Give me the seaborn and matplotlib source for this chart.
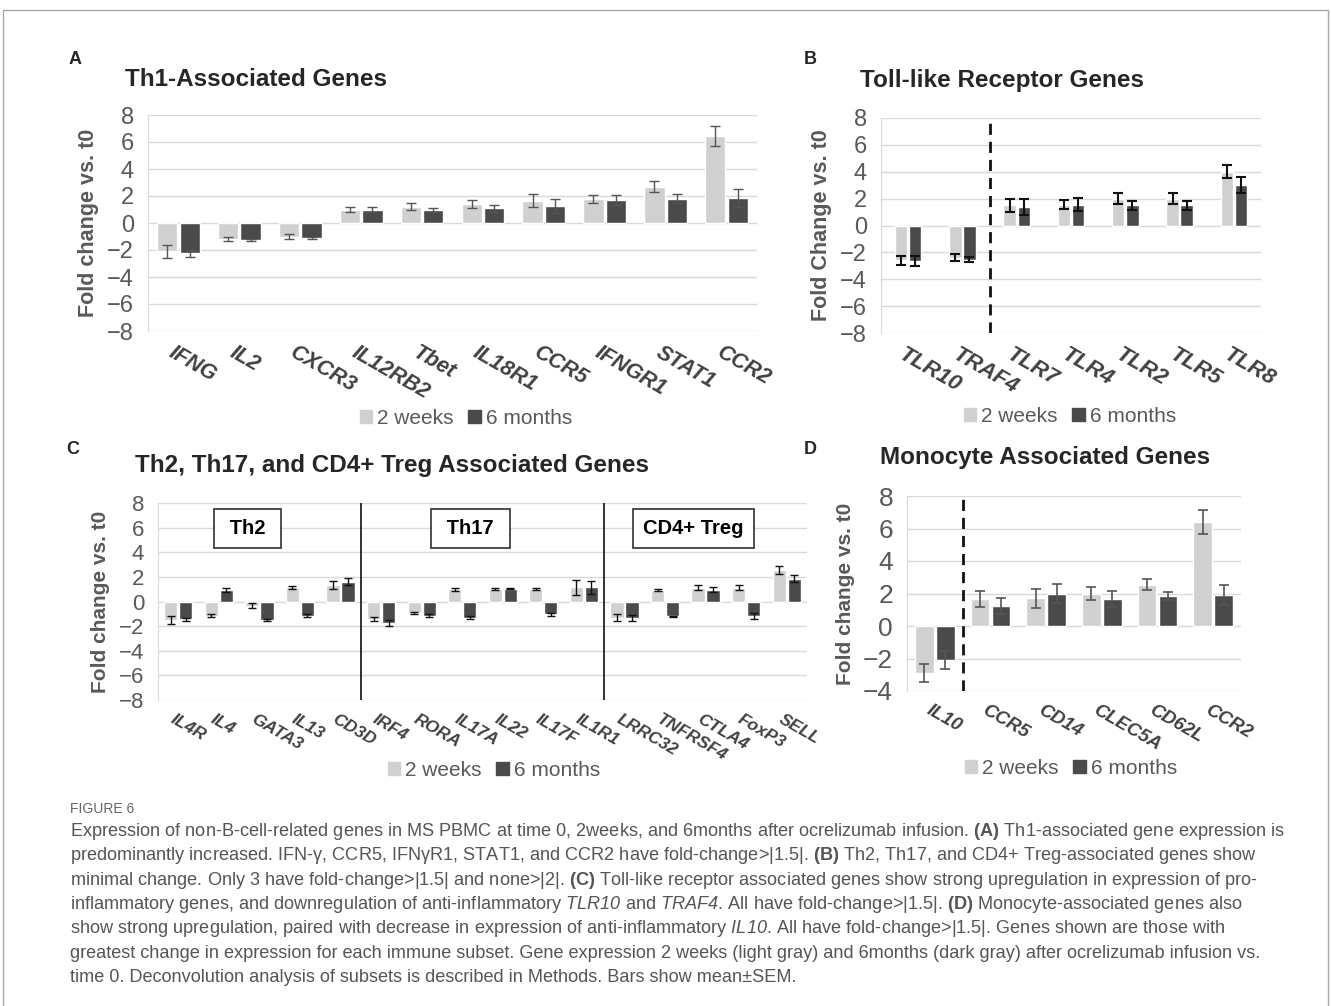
import matplotlib
matplotlib.use("Agg")
import matplotlib.pyplot as plt
import matplotlib.transforms as mtransforms
from matplotlib import font_manager
from matplotlib.patches import Patch
from matplotlib.lines import Line2D
import seaborn as sns
import pandas as pd

timepoints = ["2 weeks", "6 months"]

# A - Th1
th1_genes = ["IFNG", "IL2", "CXCR3", "IL12RB2", "Tbet", "IL18R1", "CCR5", "IFNGR1", "STAT1", "CCR2"]
th1_2wk = [-2.1, -1.15, -1.0, 1.0, 1.2, 1.4, 1.65, 1.8, 2.7, 6.45]
th1_2wk_sem = [0.5, 0.15, 0.2, 0.15, 0.25, 0.3, 0.5, 0.3, 0.38, 0.75]
th1_6mo = [-2.25, -1.25, -1.1, 1.0, 0.95, 1.1, 1.25, 1.7, 1.8, 1.85]
th1_6mo_sem = [0.25, 0.1, 0.1, 0.2, 0.15, 0.25, 0.5, 0.35, 0.35, 0.65]

# B - Toll-like receptors
tlr_genes = ["TLR10", "TRAF4", "TLR7", "TLR4", "TLR2", "TLR5", "TLR8"]
tlr_2wk = [-2.6, -2.4, 1.5, 1.55, 2.0, 2.0, 4.0]
tlr_2wk_sem = [0.35, 0.25, 0.5, 0.35, 0.4, 0.4, 0.5]
tlr_6mo = [-2.65, -2.55, 1.35, 1.55, 1.5, 1.5, 3.0]
tlr_6mo_sem = [0.37, 0.2, 0.6, 0.5, 0.35, 0.35, 0.6]

# C - Th2 / Th17 / Treg
cd4_genes = ["IL4R", "IL4", "GATA3", "IL13", "CD3D", "IRF4", "RORA", "IL17A", "IL22", "IL17F",
             "IL1R1", "LRRC32", "TNFRSF4", "CTLA4", "FoxP3", "SELL"]
cd4_2wk = [-1.5, -1.15, -0.35, 1.15, 1.35, -1.4, -0.95, 1.0, 1.0, 1.0, 1.15, -1.3, 0.95, 1.1, 1.1, 2.55]
cd4_2wk_sem = [0.3, 0.1, 0.2, 0.12, 0.35, 0.15, 0.1, 0.12, 0.1, 0.1, 0.6, 0.3, 0.1, 0.2, 0.2, 0.3]
cd4_6mo = [-1.45, 0.95, -1.5, -1.15, 1.6, -1.75, -1.15, -1.3, 1.05, -1.05, 1.15, -1.35, -1.2, 0.95, -1.15, 1.85]
cd4_6mo_sem = [0.15, 0.15, 0.1, 0.1, 0.3, 0.25, 0.1, 0.1, 0.05, 0.1, 0.55, 0.25, 0.05, 0.2, 0.25, 0.3]
cd4_groups = [" Th2 ", " Th17 ", "CD4+ Treg"]
cd4_group_sizes = [5, 6, 5]

# D - Monocyte
mono_genes = ["IL10", "CCR5", "CD14", "CLEC5A", "CD62L", "CCR2"]
mono_2wk = [-2.9, 1.65, 1.7, 2.0, 2.55, 6.4]
mono_2wk_sem = [0.55, 0.5, 0.6, 0.4, 0.33, 0.72]
mono_6mo = [-2.1, 1.25, 2.0, 1.65, 1.85, 1.9]
mono_6mo_sem = [0.55, 0.5, 0.6, 0.5, 0.25, 0.62]

caption_lines = [
    r"Expression of non-B-cell-related genes in MS PBMC at time 0, 2weeks, and 6months after ocrelizumab infusion. $\mathbf{(A)}$ Th1-associated gene expression is",
    r"predominantly increased. IFN-γ, CCR5, IFNγR1, STAT1, and CCR2 have fold-change>|1.5|. $\mathbf{(B)}$ Th2, Th17, and CD4+ Treg-associated genes show",
    r"minimal change. Only 3 have fold-change>|1.5| and none>|2|. $\mathbf{(C)}$ Toll-like receptor associated genes show strong upregulation in expression of pro-",
    r"inflammatory genes, and downregulation of anti-inflammatory $\mathsf{TLR10}$ and $\mathsf{TRAF4}$. All have fold-change>|1.5|. $\mathbf{(D)}$ Monocyte-associated genes also",
    r"show strong upregulation, paired with decrease in expression of anti-inflammatory $\mathsf{IL10}$. All have fold-change>|1.5|. Genes shown are those with",
    r"greatest change in expression for each immune subset. Gene expression 2 weeks (light gray) and 6months (dark gray) after ocrelizumab infusion vs.",
    r"time 0. Deconvolution analysis of subsets is described in Methods. Bars show mean±SEM.",
]

LIGHT = "#d0d0d0"
DARK = "#4a4a4a"
GRID = "#d9d9d9"
TXT = "#595959"

sns.set_style("white")
plt.rcParams['font.family'] = ['Liberation Sans', 'DejaVu Sans']

installed = {f.name for f in font_manager.fontManager.ttflist}
cap_font = "Liberation Sans Narrow" if "Liberation Sans Narrow" in installed else "Liberation Sans"
cap_size = 16 if cap_font == "Liberation Sans Narrow" else 13.1
plt.rcParams['mathtext.fontset'] = 'custom'
plt.rcParams['mathtext.rm'] = cap_font
plt.rcParams['mathtext.bf'] = cap_font + ":bold"
plt.rcParams['mathtext.it'] = cap_font + ":italic"
# sf slot used for italic gene names so digits stay italic too
plt.rcParams['mathtext.sf'] = cap_font + ":italic"

W, H = 1331, 1006
fig = plt.figure(figsize=(W / 100, H / 100), dpi=100)


def box(l, r, t, b):
    return [l / W, 1 - b / H, (r - l) / W, (b - t) / H]


def panel(ax, genes, v2, s2, v6, s6, ylim, ecolor, elw, cap, width, gap,
          tick_fs, xt_fs, ylabel, yl_fs, legend_xy, leg_fs):
    n = len(genes)
    df = pd.DataFrame({
        "gene": genes * 2,
        "time": [timepoints[0]] * n + [timepoints[1]] * n,
        "value": v2 + v6,
    })
    sns.barplot(data=df, x="gene", y="value", hue="time", order=genes,
                hue_order=timepoints, palette=[LIGHT, DARK], width=width, gap=gap,
                errorbar=None, saturation=1, legend=False, ax=ax, zorder=2)
    # SEM bars centred on each bar end
    for cont, errs in zip(ax.containers, [s2, s6]):
        xs = [b.get_x() + b.get_width() / 2 for b in cont]
        ys = [b.get_height() for b in cont]
        ax.errorbar(xs, ys, yerr=errs, fmt="none", ecolor=ecolor, elinewidth=elw,
                    capsize=cap, capthick=elw, zorder=3)
    ax.set_ylim(*ylim)
    ax.set_yticks(range(ylim[0], ylim[1] + 1, 2))
    ax.set_xlim(-0.5, n - 0.5)
    ax.grid(axis="y", color=GRID, lw=1)
    ax.set_axisbelow(True)
    for s in ["top", "right", "bottom"]:
        ax.spines[s].set_visible(False)
    ax.spines["left"].set_color(GRID)
    ax.tick_params(axis="y", length=0, labelsize=tick_fs, labelcolor=TXT, pad=10)
    ax.tick_params(axis="x", length=0, pad=8)
    ax.set_xticks(range(n))
    ax.set_xticklabels(genes, rotation=-30, ha="left", rotation_mode="anchor",
                       fontstyle="italic", fontweight="bold", color="#404040", fontsize=xt_fs)
    off = mtransforms.ScaledTranslation(-3 / 100, 0, fig.dpi_scale_trans)
    for lab in ax.get_xticklabels():
        lab.set_transform(lab.get_transform() + off)
    ax.set_xlabel("")
    ax.set_ylabel(ylabel, fontweight="bold", color=TXT, fontsize=yl_fs, labelpad=6)
    handles = [Patch(color=LIGHT), Patch(color=DARK)]
    ax.legend(handles, timepoints, loc="center",
              bbox_to_anchor=(legend_xy[0] / W, 1 - legend_xy[1] / H),
              bbox_transform=fig.transFigure, ncol=2, frameon=False, fontsize=leg_fs,
              handlelength=0.6, handleheight=0.6, handletextpad=0.25, columnspacing=0.7,
              labelcolor=TXT)


axA = fig.add_axes(box(148, 757, 115, 331))
panel(axA, th1_genes, th1_2wk, th1_2wk_sem, th1_6mo, th1_6mo_sem, (-8, 8), "#555555", 1.0, 3.5,
      0.74, 0.1, 17, 15.5, "Fold change vs. t0", 15.5, (466, 418), 15)

axB = fig.add_axes(box(881, 1261, 118, 333))
panel(axB, tlr_genes, tlr_2wk, tlr_2wk_sem, tlr_6mo, tlr_6mo_sem, (-8, 8), "#111111", 1.5, 3.5,
      0.52, 0.12, 17, 16, "Fold Change vs. t0", 15.5, (1070, 416), 15)
axB.axvline(1.5, color="#111111", lw=2, ls=(0, (4, 2.5)), zorder=4)

axC = fig.add_axes(box(158, 807, 503, 700))
panel(axC, cd4_genes, cd4_2wk, cd4_2wk_sem, cd4_6mo, cd4_6mo_sem, (-8, 8), "#111111", 1.0, 3,
      0.74, 0.12, 16, 12.5, "Fold change vs. t0", 15, (494, 770), 15)
start = 0
for name, size in zip(cd4_groups, cd4_group_sizes):
    if start > 0:
        axC.axvline(start - 0.5, color="#111111", lw=1.2, zorder=4)
    axC.text(start + (size - 1) / 2 - 0.3, 5.9, name, ha="center", va="center",
             fontsize=14.5, fontweight="bold", color="black", zorder=5,
             bbox=dict(boxstyle="square,pad=0.5", fc="white", ec="#404040", lw=1.3))
    start += size

axD = fig.add_axes(box(907, 1241, 496, 691))
panel(axD, mono_genes, mono_2wk, mono_2wk_sem, mono_6mo, mono_6mo_sem, (-4, 8), "#555555", 1.2, 3.5,
      0.75, 0.1, 19, 13.5, "Fold change vs. t0", 15, (1071, 768), 15)
axD.axvline(0.5, color="#111111", lw=2, ls=(0, (4, 2.5)), zorder=4)

# panel letters and titles
for letter, x, y in [("A", 75, 60), ("B", 810, 60), ("C", 73, 450), ("D", 810, 450)]:
    fig.text(x / W, 1 - y / H, letter, ha="center", va="center", fontsize=13, fontweight="bold")
for title, x, y in [("Th1-Associated Genes", 125, 80), ("Toll-like Receptor Genes", 860, 80),
                    ("Th2, Th17, and CD4+ Treg Associated Genes", 135, 465),
                    ("Monocyte Associated Genes", 880, 458)]:
    fig.text(x / W, 1 - y / H, title, ha="left", va="center", fontsize=17.5, fontweight="bold")

# outer frame
frame = "#a8a8a8"
fig.add_artist(Line2D([3 / W, 1328 / W], [1 - 10 / H] * 2, transform=fig.transFigure, color=frame, lw=1))
fig.add_artist(Line2D([3 / W] * 2, [0, 1 - 10 / H], transform=fig.transFigure, color=frame, lw=1))
fig.add_artist(Line2D([1328 / W] * 2, [0, 1 - 10 / H], transform=fig.transFigure, color=frame, lw=1))

# caption
fig.text(70 / W, 1 - 813 / H, "FIGURE 6", fontsize=10, color="#666666", family=[cap_font, "DejaVu Sans"])
for i, line in enumerate(caption_lines):
    fig.text(70 / W, 1 - (836 + i * 24.3) / H, line, ha="left", va="baseline",
             fontsize=cap_size, color="#555555", family=[cap_font, "DejaVu Sans"])

fig.savefig("out.png", dpi=100)
